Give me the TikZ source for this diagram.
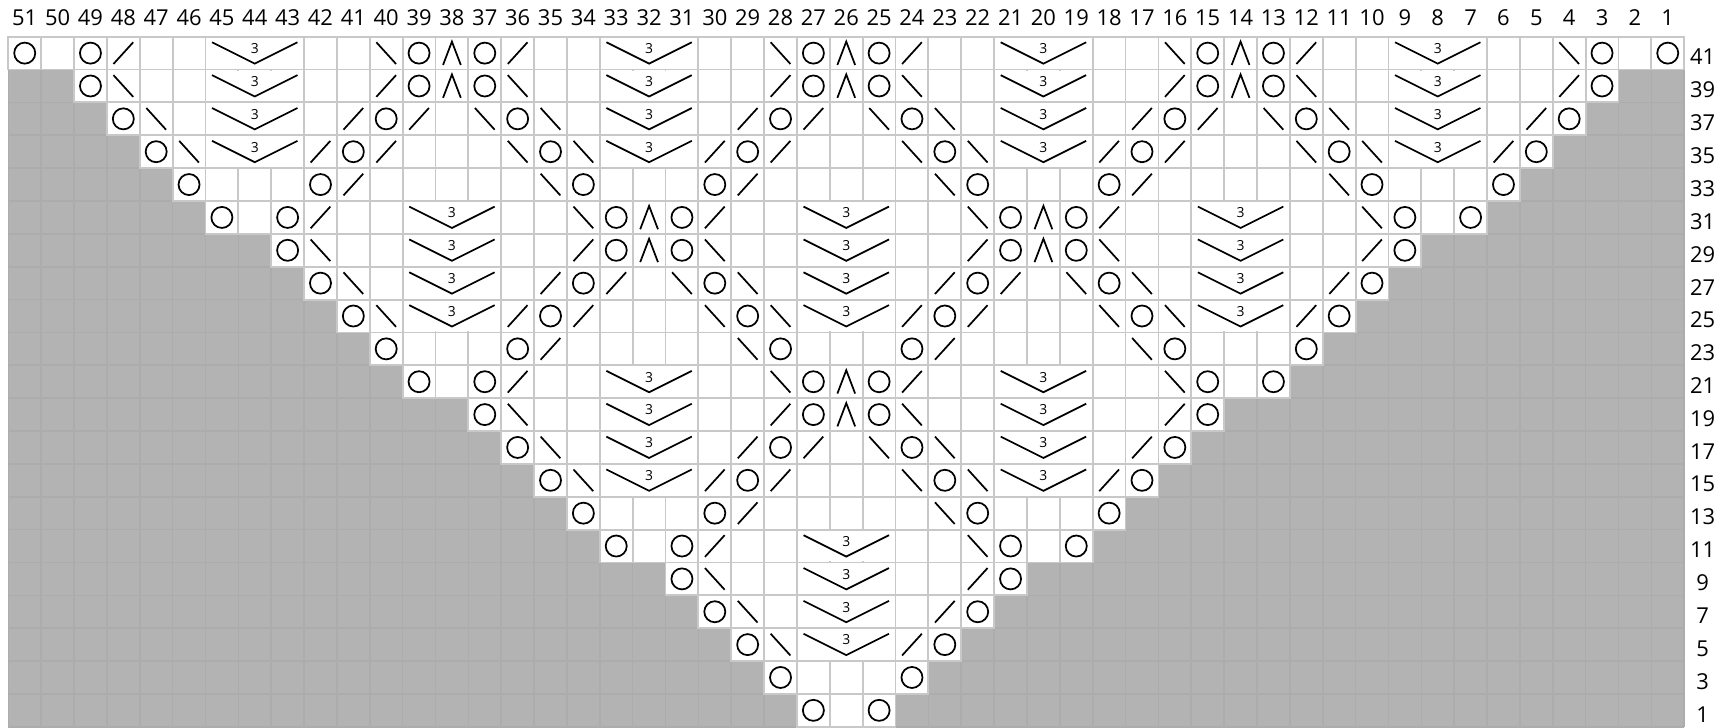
\documentclass[tikz,border=0pt]{standalone}
\usepackage{fontspec}
\setmainfont{Open Sans}
\usepackage{xcolor}
\definecolor{chartgray}{RGB}{179,179,179}
\definecolor{shadeline}{RGB}{172,172,172}
\definecolor{gridline}{RGB}{200,200,200}
\tikzset{
  cell/.style={fill=white, draw=gridline, line width=1.6pt},
  stitch/.style={line width=1.5pt, black},
  numlabel/.style={font=\fontsize{19}{22}\selectfont, inner sep=0pt},
  yo/.pic={\draw[stitch] (0,0) circle (0.32);},
  ktog/.pic={\draw[stitch] (-0.3,-0.33) -- (0.3,0.33);},
  ssk/.pic={\draw[stitch] (-0.3,0.33) -- (0.3,-0.33);},
  cdd/.pic={\draw[stitch] (-0.27,-0.36) -- (0,0.35) -- (0.27,-0.36);},
  chev/.pic={
    \fill[white] (-1.47,-0.47) rectangle (1.47,0.47);
    \draw[stitch] (-1.3,0.33) -- (0,-0.32) -- (1.3,0.33);
    \node[font=\fontsize{12}{14}\selectfont, inner sep=0pt] at (0,0.14) {3};
  }
}

\begin{document}
\begin{tikzpicture}[x=1cm,y=1cm]
\useasboundingbox (-0.253,-0.01) rectangle (52.09,22.117);

% shaded part of the grid
\fill[chartgray] (0,0) rectangle (51,21);
\draw[shadeline, line width=1.4pt] (0,0) grid (51,21);

% white cells, row / first col / last col
\foreach \r/\a/\b in {41/51/1, 39/49/3, 37/48/4, 35/47/5, 33/46/6, 31/45/7,
    29/43/9, 27/42/10, 25/41/11, 23/40/12, 21/39/13, 19/37/15, 17/36/16,
    15/35/17, 13/34/18, 11/33/19, 9/31/21, 7/30/22, 5/29/23, 3/28/24, 1/27/25}
  \foreach \c in {\b,...,\a}
    \filldraw[cell] ({51-\c},{(\r-1)/2}) rectangle ++(1,1);

% yarn overs
\foreach \r/\cols in {41/{51,49,39,37,27,25,15,13,3,1}, 39/{49,39,37,27,25,15,13,3},
    37/{48,40,36,28,24,16,12,4}, 35/{47,41,35,29,23,17,11,5},
    33/{46,42,34,30,22,18,10,6}, 31/{45,43,33,31,21,19,9,7},
    29/{43,33,31,21,19,9}, 27/{42,34,30,22,18,10}, 25/{41,35,29,23,17,11},
    23/{40,36,28,24,16,12}, 21/{39,37,27,25,15,13}, 19/{37,27,25,15},
    17/{36,28,24,16}, 15/{35,29,23,17}, 13/{34,30,22,18}, 11/{33,31,21,19},
    9/{31,21}, 7/{30,22}, 5/{29,23}, 3/{28,24}, 1/{27,25}}
  \foreach \c in \cols
    \pic at ({51.5-\c},{\r/2}) {yo};

% k2tog
\foreach \r/\cols in {41/{48,36,24,12}, 39/{40,28,16,4}, 37/{41,39,29,27,17,15,5},
    35/{42,40,30,28,18,16,6}, 33/{41,29,17}, 31/{42,30,18}, 29/{34,22,10},
    27/{35,33,23,21,11}, 25/{36,34,24,22,12}, 23/{35,23}, 21/{36,24},
    19/{28,16}, 17/{29,27,17}, 15/{30,28,18}, 13/{29}, 11/{30}, 9/{22},
    7/{23}, 5/{24}}
  \foreach \c in \cols
    \pic at ({51.5-\c},{\r/2}) {ktog};

% ssk
\foreach \r/\cols in {41/{40,28,16,4}, 39/{48,36,24,12}, 37/{47,37,35,25,23,13,11},
    35/{46,36,34,24,22,12,10}, 33/{35,23,11}, 31/{34,22,10}, 29/{42,30,18},
    27/{41,31,29,19,17}, 25/{40,30,28,18,16}, 23/{29,17}, 21/{28,16},
    19/{36,24}, 17/{35,25,23}, 15/{34,24,22}, 13/{23}, 11/{22}, 9/{30},
    7/{29}, 5/{28}}
  \foreach \c in \cols
    \pic at ({51.5-\c},{\r/2}) {ssk};

% centred double decreases
\foreach \rows/\cols in {{41,39}/{38,26,14}, {31,29}/{32,20}, {21,19}/{26}}
  \foreach \r in \rows
    \foreach \c in \cols
      \pic at ({51.5-\c},{\r/2}) {cdd};

% 3-stitch chevrons
\foreach \rows/\cols in {{41,39,37,35}/{44,32,20,8}, {31,29,27,25}/{38,26,14},
    {21,19,17,15}/{32,20}, {11,9,7,5}/{26}}
  \foreach \r in \rows
    \foreach \c in \cols
      \pic at ({51.5-\c},{\r/2}) {chev};

% numbering
\foreach \c in {1,...,51}
  \node[numlabel] (col\c) at ({51.5-\c},21.59) {\c};
\foreach \r in {1,3,...,41}
  \node[numlabel] (row\r) at (51.56,{\r/2-0.12}) {\r};
\end{tikzpicture}
\end{document}
